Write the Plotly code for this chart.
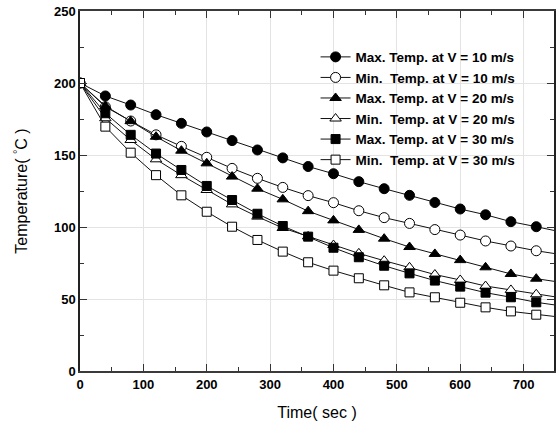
import plotly.graph_objects as go

time_s = [0, 40, 80, 120, 160, 200, 240, 280, 320, 360, 400, 440, 480, 520, 560, 600, 640, 680, 720, 760]

max_v10 = [200, 191, 184.7, 178, 172, 166, 160, 153.5, 148, 142, 137, 131.5, 126.6, 122, 117, 112.5, 108.5, 103.7, 100.2, 96.5]
min_v10 = [200, 183.5, 173.6, 164, 156, 148.4, 140.7, 133.8, 127.5, 121.8, 116.9, 111.3, 106.5, 102.5, 98.2, 94.4, 90.3, 86.8, 83.5, 80.8]
max_v20 = [200, 184, 173.5, 162.7, 153, 144.2, 135, 126.6, 119.2, 111, 104.6, 98, 91.9, 86.1, 81.3, 77, 72, 67.4, 64.1, 61.5]
min_v20 = [200, 175.5, 160.4, 147, 136, 125.7, 115.7, 107.2, 99.3, 93.5, 87.5, 81.7, 76.6, 72, 67, 63.2, 59, 56.3, 53.3, 50.8]
max_v30 = [200, 179, 164, 151, 139.6, 128.5, 118.75, 109.2, 100.7, 93.3, 85.6, 79, 73.1, 67.8, 62.8, 58.6, 54.4, 51.2, 47.7, 45.2]
min_v30 = [200, 169.7, 151.6, 136, 122, 110.6, 100.2, 91, 82.9, 75.5, 69.7, 64.4, 59.5, 54.6, 51.2, 47.4, 44.2, 41.4, 39.1, 37.3]

series_names = [
    "Max. Temp. at V = 10 m/s",
    "Min.\u00a0 Temp. at V = 10 m/s",
    "Max. Temp. at V = 20 m/s",
    "Min.\u00a0 Temp. at V = 20 m/s",
    "Max. Temp. at V = 30 m/s",
    "Min.\u00a0 Temp. at V = 30 m/s",
]
series_values = [max_v10, min_v10, max_v20, min_v20, max_v30, min_v30]
series_symbols = ["circle", "circle-open", "triangle-up", "triangle-up-open", "square", "square-open"]
series_sizes = [10, 10, 10, 10, 9, 9]

x_ticks = [0, 100, 200, 300, 400, 500, 600, 700]
y_ticks = [0, 50, 100, 150, 200, 250]

FONT = "Liberation Sans, Arial, sans-serif"

fig = go.Figure()
for name, vals, sym, sz in zip(series_names, series_values, series_symbols, series_sizes):
    is_open = sym.endswith("-open")
    fig.add_trace(go.Scatter(
        x=time_s, y=vals, name=name, mode="lines+markers",
        line=dict(color="#111111", width=1),
        marker=dict(
            symbol=sym.replace("-open", ""), size=sz,
            color="white" if is_open else "black",
            line=dict(color="black", width=1),
        ),
        cliponaxis=True,
    ))

fig.update_layout(
    width=556, height=425,
    margin=dict(l=80, r=0, t=11, b=54),
    paper_bgcolor="white", plot_bgcolor="white",
    font=dict(family=FONT, color="black"),
    showlegend=True,
    legend=dict(
        x=0.497, y=0.915, xanchor="left", yanchor="top",
        bgcolor="rgba(255,255,255,0)",
        font=dict(family=FONT, size=13.5, color="black", weight="bold"),
        tracegroupgap=0, itemwidth=30,
    ),
)

fig.update_xaxes(
    range=[0, 748], tickvals=x_ticks, ticktext=[str(v) for v in x_ticks],
    showline=True, linecolor="#3a3a3a", linewidth=2, mirror="ticks",
    ticks="inside", ticklen=7, tickwidth=1.2, tickcolor="#333333",
    minor=dict(dtick=50, tick0=0, ticks="inside", ticklen=4, tickcolor="#333333", showgrid=False),
    showgrid=True, gridcolor="#e3e3e3", gridwidth=1,
    zeroline=False,
    tickfont=dict(family=FONT, size=13, color="black", weight="bold"),
    title=dict(text="Time( sec )", font=dict(family=FONT, size=16, color="black"), standoff=16),
)
fig.update_yaxes(
    range=[0, 250], tickvals=y_ticks, ticktext=[str(v) for v in y_ticks],
    showline=True, linecolor="#222222", linewidth=1.5, mirror="ticks",
    ticks="inside", ticklen=7, tickwidth=1.2, tickcolor="#333333",
    minor=dict(dtick=25, tick0=0, ticks="inside", ticklen=4, tickcolor="#333333", showgrid=False),
    showgrid=True, gridcolor="#e3e3e3", gridwidth=1,
    zeroline=False,
    tickfont=dict(family=FONT, size=13, color="black", weight="bold"),
    title=dict(text="Temperature( <sup>°</sup>C )", font=dict(family=FONT, size=16, color="black"), standoff=22),
)

fig.write_html("out.html")
